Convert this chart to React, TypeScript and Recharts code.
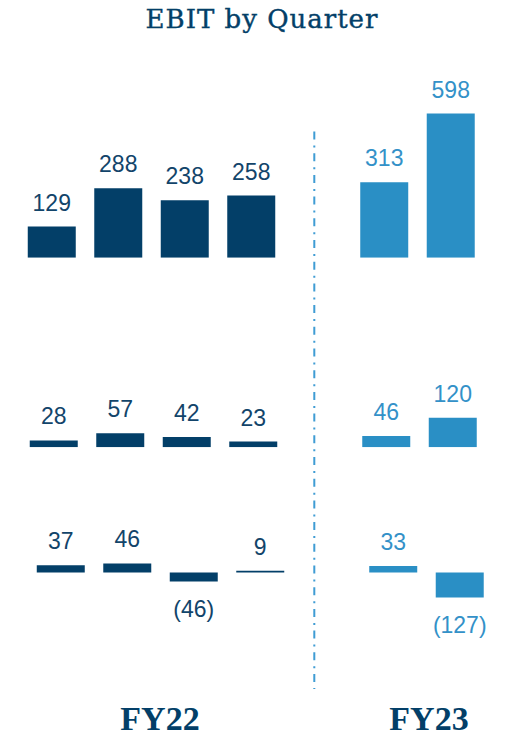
import { BarChart, Bar, XAxis, YAxis, Cell, LabelList } from 'recharts'

// quarters, with an empty slot between the two fiscal years
const quarters = ['Q1 FY22', 'Q2 FY22', 'Q3 FY22', 'Q4 FY22', 'gap', 'Q1 FY23', 'Q2 FY23']
const fiscalYears = ['FY22', 'FY22', 'FY22', 'FY22', '', 'FY23', 'FY23']

const ebitTotal = [129, 288, 238, 258, null, 313, 598]
const ebitMiddle = [28, 57, 42, 23, null, 46, 120]
const ebitBottom = [37, 46, -46, 9, null, 33, -127]

const yearLabels = ['FY22', 'FY23']

const DARK = '#033f68'
const LIGHT = '#2a8fc5'
const DARK_TEXT = '#12446a'
const LIGHT_TEXT = '#3391c8'

const barColor = (year: string) => (year === 'FY23' ? LIGHT : DARK)
const textColor = (year: string) => (year === 'FY23' ? LIGHT_TEXT : DARK_TEXT)

const makeRows = (values: (number | null)[]) =>
  quarters.map((q, i) => ({ quarter: q, year: fiscalYears[i], value: values[i] }))

// label value carries the year so the colour follows the bar
const labelValue = (d: any) => (d.value === null ? null : `${d.year}|${d.value}`)

const renderLabel = (props: any) => {
  const { x, y, width, height, value } = props
  if (value === null || value === undefined) return null
  const [year, raw] = String(value).split('|')
  const v = Number(raw)
  const top = Math.min(y, y + height)
  const bottom = Math.max(y, y + height)
  const cx = x + width / 2
  const neg = v < 0
  return (
    <text
      x={cx}
      y={neg ? bottom + 35 : top - 16}
      textAnchor="middle"
      fill={textColor(year)}
      fontFamily="'Liberation Sans', Arial, sans-serif"
      fontSize={23}
    >
      {neg ? `(${-v})` : v}
    </text>
  )
}

interface RowProps {
  values: (number | null)[]
  domain: [number, number]
  scale: number // px per unit
  baseline: number // page y of the zero line
  left: number
}

function QuarterRow({ values, domain, scale, baseline, left }: RowProps) {
  const data = makeRows(values)
  const plotHeight = (domain[1] - domain[0]) * scale
  const plotTop = baseline - domain[1] * scale
  const padTop = 34
  const padBottom = 44
  const bandWidth = 66.5
  const plotWidth = bandWidth * quarters.length
  return (
    <div style={{ position: 'absolute', left: 0, top: plotTop - padTop }}>
      <BarChart
        width={508}
        height={plotHeight + padTop + padBottom}
        data={data}
        margin={{ top: padTop, right: 508 - left - plotWidth, bottom: padBottom, left }}
      >
        <XAxis dataKey="quarter" hide />
        <YAxis type="number" domain={domain} hide allowDataOverflow />
        <Bar dataKey="value" barSize={48} isAnimationActive={false}>
          {data.map((d) => (
            <Cell key={d.quarter} fill={barColor(d.year)} />
          ))}
          <LabelList dataKey={labelValue} content={renderLabel} />
        </Bar>
      </BarChart>
    </div>
  )
}

export default function App() {
  return (
    <div style={{ position: 'absolute', left: 0, top: 0, width: 508, height: 738, background: '#fff', overflow: 'hidden' }}>
      <div
        style={{
          position: 'absolute',
          left: 0,
          width: 524,
          top: 4,
          textAlign: 'center',
          fontFamily: "'DejaVu Serif', serif",
          fontSize: 26,
          letterSpacing: 1,
          color: DARK,
          WebkitTextStroke: '0.4px ' + DARK,
        }}
      >
        EBIT by Quarter
      </div>

      <QuarterRow values={ebitTotal} domain={[0, 700]} scale={0.241} baseline={258} left={18.75} />
      <QuarterRow values={ebitMiddle} domain={[0, 250]} scale={0.245} baseline={447.5} left={20.75} />
      <QuarterRow values={ebitBottom} domain={[-200, 150]} scale={0.197} baseline={572.3} left={27.75} />

      <svg style={{ position: 'absolute', left: 0, top: 0 }} width={508} height={738}>
        <line x1={314.3} x2={314.3} y1={131.5} y2={689} stroke="#3f9cd4" strokeWidth={2} strokeDasharray="8 6 2 5.7" />
      </svg>

      {yearLabels.map((label, i) => (
        <div
          key={label}
          style={{
            position: 'absolute',
            top: 700,
            left: i === 0 ? 160 - 60 : 429 - 60,
            width: 120,
            textAlign: 'center',
            fontFamily: "'Liberation Serif', 'Times New Roman', serif",
            fontWeight: 'bold',
            fontSize: 34,
            color: DARK,
          }}
        >
          {label}
        </div>
      ))}
    </div>
  )
}
